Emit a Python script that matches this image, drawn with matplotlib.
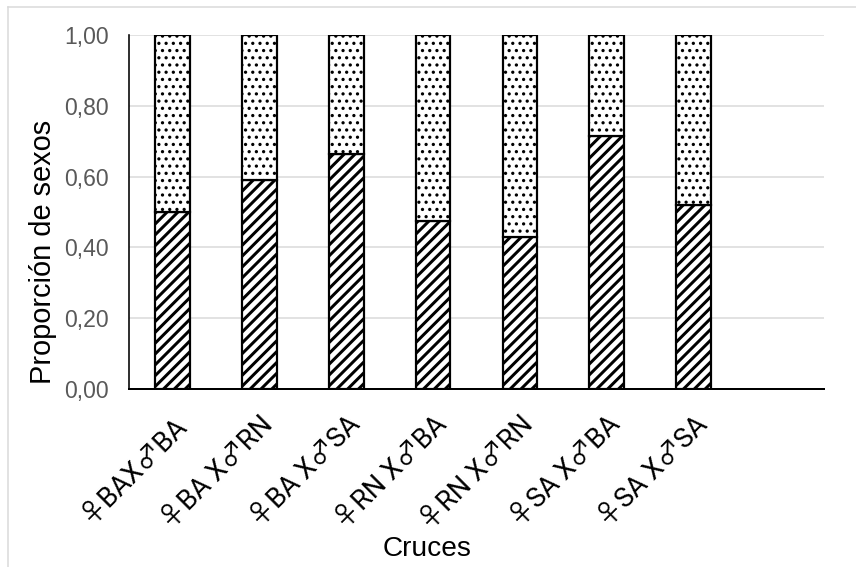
import matplotlib
matplotlib.use("Agg")
import matplotlib.pyplot as plt
from matplotlib.lines import Line2D
import matplotlib.transforms as mtransforms
import types

W, H, DPI = 856, 567, 130

categories = ["♀BAX♂BA", "♀BA X♂RN", "♀BA X♂SA", "♀RN X♂BA",
              "♀RN X♂RN", "♀SA X♂BA", "♀SA X♂SA"]
bottom_vals = [0.50, 0.59, 0.665, 0.475, 0.43, 0.715, 0.52]
top_vals = [0.50, 0.41, 0.335, 0.525, 0.57, 0.285, 0.48]
yticks = [0.0, 0.2, 0.4, 0.6, 0.8, 1.0]
ytick_labels = ["0,00", "0,20", "0,40", "0,60", "0,80", "1,00"]

def pt(px):
    return px * 72.0 / DPI

plt.rcParams['font.family'] = ['Liberation Sans', 'DejaVu Sans']

def with_hatch_lw(patch, lw):
    orig = patch.draw
    def draw(self, renderer, _orig=orig, _lw=lw):
        with matplotlib.rc_context({'hatch.linewidth': _lw}):
            return _orig(renderer)
    patch.draw = types.MethodType(draw, patch)
    if hasattr(patch, 'set_hatch_linewidth'):
        patch.set_hatch_linewidth(lw)

fig = plt.figure(figsize=(W / DPI, H / DPI), dpi=DPI)
ax = fig.add_axes([129 / W, (H - 389) / H, (824 - 129) / W, (389 - 35) / H])

x = list(range(len(categories)))
b1 = ax.bar(x, bottom_vals, width=0.40, color='white', edgecolor='black',
            linewidth=pt(2.2), hatch='////', zorder=3)
b2 = ax.bar(x, top_vals, bottom=bottom_vals, width=0.40, color='white',
            edgecolor='black', linewidth=pt(2.2), hatch='...', zorder=3)
for p in b1:
    with_hatch_lw(p, pt(3.0))
for p in b2:
    with_hatch_lw(p, pt(1.8))

ax.set_xlim(-0.5, 7.5)
ax.set_ylim(0, 1.0)
ax.set_yticks(yticks)
ax.set_yticklabels(ytick_labels, fontsize=pt(23), color='#595959')
ax.set_xticks(x)
ax.set_xticklabels(categories, rotation=45, ha='right', va='top',
                   rotation_mode='anchor', fontsize=pt(27), color='black',
                   family=['Roboto', 'Noto Sans CJK JP', 'DejaVu Sans'])
offset = mtransforms.ScaledTranslation(-9 / DPI, 0, fig.dpi_scale_trans)
for lbl in ax.get_xticklabels():
    lbl.set_transform(lbl.get_transform() + offset)
ax.tick_params(axis='both', length=0)
ax.tick_params(axis='y', pad=pt(20))
ax.tick_params(axis='x', pad=pt(22))
ax.yaxis.grid(True, color='#d9d9d9', linewidth=pt(1.5), zorder=0)
ax.set_axisbelow(True)
for s in ['top', 'right']:
    ax.spines[s].set_visible(False)
ax.spines['left'].set_color('black')
ax.spines['bottom'].set_color('black')
ax.spines['left'].set_linewidth(pt(1.6))
ax.spines['bottom'].set_linewidth(pt(2))

fig.text(43 / W, 1 - 252 / H, "Proporción de sexos", rotation=90,
         ha='center', va='center', fontsize=pt(29), color='black')
fig.text(427 / W, 1 - 549 / H, "Cruces", ha='center', va='center',
         fontsize=pt(28), color='black')

# chart area border (top and left visible)
fig.add_artist(Line2D([8 / W, 1.0], [1 - 7 / H, 1 - 7 / H], color='#d9d9d9',
                      linewidth=pt(1.5), transform=fig.transFigure))
fig.add_artist(Line2D([8 / W, 8 / W], [0, 1 - 7 / H], color='#d9d9d9',
                      linewidth=pt(1.5), transform=fig.transFigure))

fig.savefig("out.png", dpi=DPI)
